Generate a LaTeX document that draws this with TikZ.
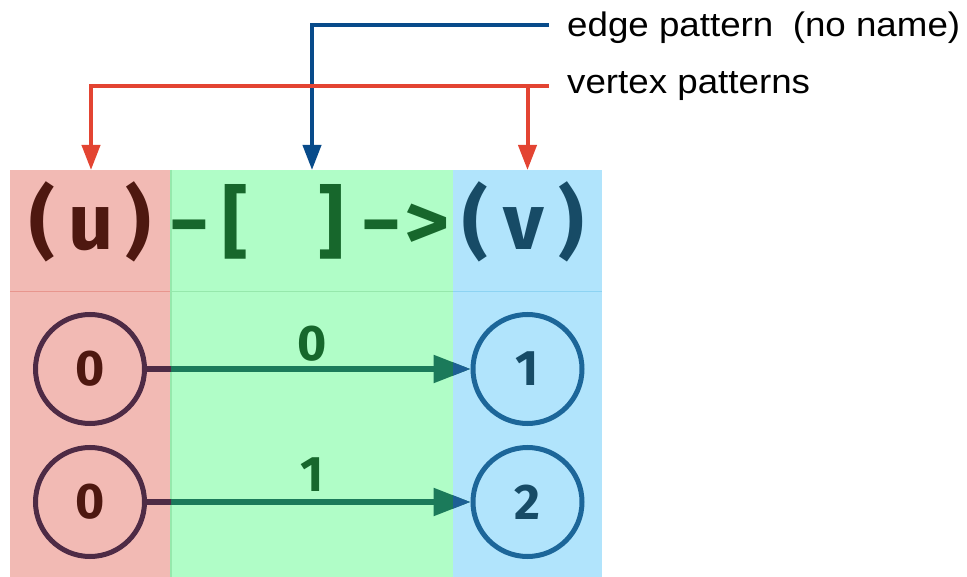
\documentclass[tikz,border=0pt]{standalone}
\usepackage{fontspec}
\setmainfont{Liberation Sans}
\newfontfamily\hdr{Fira Sans}
\usetikzlibrary{arrows.meta}
\definecolor{pred}{HTML}{F2BAB4}
\definecolor{pgreen}{HTML}{B0FDC7}
\definecolor{pblue}{HTML}{B1E4FC}
\definecolor{lred}{HTML}{E8968E}
\definecolor{lgreen}{HTML}{96E8AC}
\definecolor{lblue}{HTML}{8DD3F3}
\definecolor{tbrown}{HTML}{4E1810}
\definecolor{tgreen}{HTML}{17672C}
\definecolor{tblue}{HTML}{174B66}
\definecolor{cpurp}{HTML}{4E2B45}
\definecolor{cblue}{HTML}{1C6699}
\definecolor{egreen}{HTML}{1B7A5A}
\definecolor{eblue}{HTML}{1D5F95}
\definecolor{ablue}{HTML}{084B8A}
\definecolor{ared}{HTML}{E34432}
\tikzset{
  hch/.style={anchor=base, inner sep=0pt, font=\hdr\bfseries\fontsize{79}{86}\selectfont, text=#1},
  vleft/.style={circle, draw=cpurp, line width=5pt, minimum size=109pt, inner sep=0pt, text=tbrown, font=\hdr\bfseries\fontsize{50}{60}\selectfont},
  vright/.style={circle, draw=cblue, line width=5pt, minimum size=109pt, inner sep=0pt, text=tblue, font=\hdr\bfseries\fontsize{50}{60}\selectfont},
  elab/.style={inner sep=0pt, text=tgreen, font=\hdr\bfseries\fontsize{50}{60}\selectfont},
  edgeln/.style={draw=#1, line width=5.5pt, -{Triangle[length=37pt,width=27pt]}},
  callout/.style={draw=#1, line width=4pt, -{Triangle[length=25pt,width=18pt]}},
  ctext/.style={anchor=base west, inner sep=0pt, font=\fontsize{34}{40}\selectfont, text=black}
}
\begin{document}
\begin{tikzpicture}[x=1pt,y=-1pt]
\useasboundingbox (0,0) rectangle (967,577);
% panels
\fill[pred] (10,170) rectangle (171,577);
\fill[pgreen] (171,170) rectangle (453,577);
\fill[pblue] (453,170) rectangle (602,577);
\draw[lred, line width=1.5pt] (10,291.5) -- (171,291.5);
\draw[lgreen, line width=1.5pt] (171,291.5) -- (453,291.5);
\draw[lblue, line width=1.5pt] (453,291.5) -- (602,291.5);
\draw[lgreen, line width=1.2pt] (171,170) -- (171,577);
% header
\node[hch=tbrown] (h1) at (42,250) {(};
\node[hch=tbrown] (h2) at (91,250) {u};
\node[hch=tbrown] (h3) at (138,250) {)};
\node[hch=tgreen] (h4) at (189.5,250) {\scalebox{1.3}[1]{-}};
\node[hch=tgreen] (h5) at (235.5,250) {[};
\node[hch=tgreen] (h6) at (331.5,250) {]};
\node[hch=tgreen] (h7) at (381,250) {\scalebox{1.3}[1]{-}};
\node[hch=tgreen] (h8) at (427,250) {\scalebox{1.1}[1]{>}};
\node[hch=tblue] (h9) at (475.5,250) {(};
\node[hch=tblue] (h10) at (524,250) {v};
\node[hch=tblue] (h11) at (571.5,250) {)};
% vertices
\node[vleft] (a1) at (90,369) {0};
\node[vleft] (a2) at (90,502) {0};
\node[vright] (b1) at (527.5,369) {1};
\node[vright] (b2) at (527.5,502) {2};
% edges
\draw[edgeln=egreen] (a1) -- (b1);
\draw[edgeln=egreen] (a2) -- (b2);
\begin{scope}
\clip (10,170) rectangle (171,577);
\draw[edgeln=cpurp] (a1) -- (b1);
\draw[edgeln=cpurp] (a2) -- (b2);
\end{scope}
\begin{scope}
\clip (453,170) rectangle (602,577);
\draw[edgeln=eblue] (a1) -- (b1);
\draw[edgeln=eblue] (a2) -- (b2);
\end{scope}
\node[elab] (l1) at (312,344) {0};
\node[elab] (l2) at (312,475) {1};
% callouts
\node[ctext] (t1) at (567,37) {\scalebox{1.08}[1]{edge pattern\hspace{18pt}(no name)}};
\node[ctext] (t2) at (567,94) {\scalebox{1.08}[1]{vertex patterns}};
\coordinate (s1) at (549,25);
\coordinate (s2) at (549,86);
\coordinate (e1) at (312,170);
\coordinate (e2) at (91,170);
\coordinate (e3) at (527.5,170);
\draw[callout=ablue] (s1) -| (e1);
\draw[callout=ared] (s2) -| (e2);
\draw[callout=ared] (e3 |- s2) -- (e3);
\end{tikzpicture}
\end{document}
